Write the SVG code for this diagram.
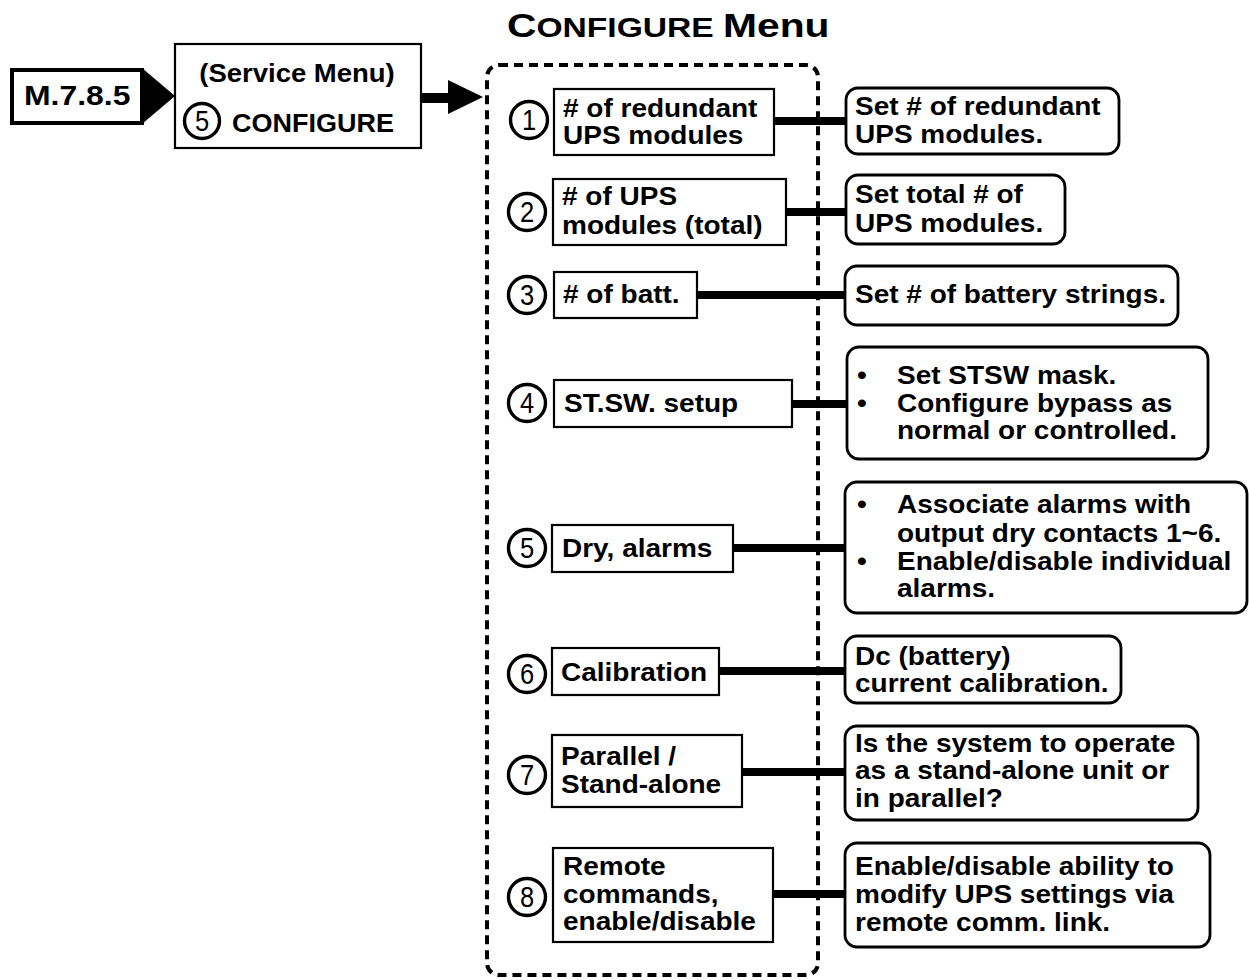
<svg xmlns="http://www.w3.org/2000/svg" width="1249" height="980" viewBox="0 0 1249 980">
<defs>
<style>
.t{font-family:"Liberation Sans",Arial,Helvetica,sans-serif;font-weight:bold;font-size:25px;fill:#000}
.n{font-family:"Liberation Sans",Arial,Helvetica,sans-serif;font-size:29px;fill:#000;text-anchor:middle}
.box{fill:#fff;stroke:#000;stroke-width:2.2}
.rbox{fill:#fff;stroke:#000;stroke-width:2.8}
.circ{fill:#fff;stroke:#000;stroke-width:3.4}
.conn{stroke:#000;stroke-width:8;fill:none}
</style>
</defs>
<rect width="1249" height="980" fill="#fff"/>

<g id="title">
<text class="t" transform="translate(507,37) scale(1.2,1)"><tspan style="font-size:34px">C</tspan><tspan style="font-size:28px">ONFIGURE </tspan><tspan style="font-size:34px">Menu</tspan></text>
</g>

<g id="connectors">
<polygon points="142,68 175,96 142,124" fill="#000"/>
<rect x="421" y="93" width="29" height="10" fill="#000"/>
<polygon points="448,80 483,97 448,114" fill="#000"/>
<line class="conn" x1="774" y1="121" x2="847" y2="121"/>
<line class="conn" x1="786" y1="212" x2="846" y2="212"/>
<line class="conn" x1="697" y1="295" x2="846" y2="295"/>
<line class="conn" x1="792" y1="404" x2="847" y2="404"/>
<line class="conn" x1="733" y1="548" x2="845" y2="548"/>
<line class="conn" x1="719" y1="671" x2="845" y2="671"/>
<line class="conn" x1="742" y1="772" x2="845" y2="772"/>
<line class="conn" x1="773" y1="894" x2="845" y2="894"/>
</g>

<g id="m785">
<rect x="12" y="70" width="130" height="53" fill="#fff" stroke="#000" stroke-width="4"/>
<text class="t" style="font-size:28px" transform="translate(24,105) scale(1.14,1)">M.7.8.5</text>
</g>

<g id="service">
<rect class="box" x="175" y="44" width="246" height="104"/>
<text class="t" text-anchor="middle" transform="translate(297,82) scale(1.1,1)">(Service Menu)</text>
<circle class="circ" cx="202" cy="121" r="17.5"/>
<text class="n" transform="translate(202,131) scale(0.88,1)">5</text>
<text class="t" transform="translate(232,132) scale(1.08,1)">CONFIGURE</text>
</g>

<g id="menu">
<rect x="487" y="65" width="331" height="910" rx="12" fill="none" stroke="#000" stroke-width="4" stroke-dasharray="9 6"/>
</g>

<g id="item1">
<circle class="circ" cx="529" cy="120" r="18.5"/>
<text class="n" transform="translate(529,130) scale(0.88,1)">1</text>
<rect class="box" x="554" y="89" width="220" height="66"/>
<text class="t" transform="translate(563,117) scale(1.12,1)"><tspan x="0" y="0">#&#160;of redundant</tspan><tspan x="0" y="27">UPS modules</tspan></text>
</g>
<g id="desc1">
<rect class="rbox" x="846" y="88" width="273" height="66" rx="12"/>
<text class="t" transform="translate(855,115) scale(1.12,1)"><tspan x="0" y="0">Set # of redundant</tspan><tspan x="0" y="28">UPS modules.</tspan></text>
</g>

<g id="item2">
<circle class="circ" cx="527" cy="212" r="18.5"/>
<text class="n" transform="translate(527,222) scale(0.88,1)">2</text>
<rect class="box" x="553" y="179" width="233" height="66"/>
<text class="t" transform="translate(562,205) scale(1.12,1)"><tspan x="0" y="0"># of UPS</tspan><tspan x="0" y="29">modules (total)</tspan></text>
</g>
<g id="desc2">
<rect class="rbox" x="846" y="175" width="219" height="69" rx="12"/>
<text class="t" transform="translate(855,203) scale(1.12,1)"><tspan x="0" y="0">Set total # of</tspan><tspan x="0" y="29">UPS modules.</tspan></text>
</g>

<g id="item3">
<circle class="circ" cx="527" cy="295" r="18.5"/>
<text class="n" transform="translate(527,305) scale(0.88,1)">3</text>
<rect class="box" x="554" y="272" width="143" height="46"/>
<text class="t" transform="translate(563,303) scale(1.12,1)"># of batt.</text>
</g>
<g id="desc3">
<rect class="rbox" x="845" y="266" width="333" height="59" rx="12"/>
<text class="t" transform="translate(855,303) scale(1.12,1)">Set # of battery strings.</text>
</g>

<g id="item4">
<circle class="circ" cx="527" cy="403" r="18.5"/>
<text class="n" transform="translate(527,413) scale(0.88,1)">4</text>
<rect class="box" x="554" y="380" width="238" height="47"/>
<text class="t" transform="translate(564,412) scale(1.12,1)">ST.SW. setup</text>
</g>
<g id="desc4">
<rect class="rbox" x="847" y="347" width="361" height="112" rx="12"/>
<text class="t" transform="translate(857,384) scale(1.12,1)"><tspan x="0" y="0">•</tspan><tspan x="0" y="28">•</tspan></text>
<text class="t" transform="translate(897,384) scale(1.12,1)"><tspan x="0" y="0">Set STSW mask.</tspan><tspan x="0" y="28">Configure bypass as</tspan><tspan x="0" y="55">normal or controlled.</tspan></text>
</g>

<g id="item5">
<circle class="circ" cx="527" cy="548" r="18.5"/>
<text class="n" transform="translate(527,558) scale(0.88,1)">5</text>
<rect class="box" x="552" y="525" width="181" height="47"/>
<text class="t" transform="translate(562,557) scale(1.12,1)">Dry, alarms</text>
</g>
<g id="desc5">
<rect class="rbox" x="845" y="482" width="402" height="131" rx="12"/>
<text class="t" transform="translate(857,513) scale(1.12,1)"><tspan x="0" y="0">•</tspan><tspan x="0" y="57">•</tspan></text>
<text class="t" transform="translate(897,513) scale(1.12,1)"><tspan x="0" y="0">Associate alarms with</tspan><tspan x="0" y="29">output dry contacts 1~6.</tspan><tspan x="0" y="57">Enable/disable individual</tspan><tspan x="0" y="84">alarms.</tspan></text>
</g>

<g id="item6">
<circle class="circ" cx="527" cy="674" r="18.5"/>
<text class="n" transform="translate(527,684) scale(0.88,1)">6</text>
<rect class="box" x="552" y="648" width="167" height="47"/>
<text class="t" transform="translate(561,681) scale(1.12,1)">Calibration</text>
</g>
<g id="desc6">
<rect class="rbox" x="845" y="636" width="276" height="67" rx="12"/>
<text class="t" transform="translate(855,665) scale(1.12,1)"><tspan x="0" y="0">Dc (battery)</tspan><tspan x="0" y="27">current calibration.</tspan></text>
</g>

<g id="item7">
<circle class="circ" cx="527" cy="775" r="18.5"/>
<text class="n" transform="translate(527,785) scale(0.88,1)">7</text>
<rect class="box" x="552" y="735" width="190" height="72"/>
<text class="t" transform="translate(561,765) scale(1.12,1)"><tspan x="0" y="0">Parallel /</tspan><tspan x="0" y="28">Stand-alone</tspan></text>
</g>
<g id="desc7">
<rect class="rbox" x="845" y="726" width="353" height="94" rx="12"/>
<text class="t" transform="translate(855,752) scale(1.12,1)"><tspan x="0" y="0">Is the system to operate</tspan><tspan x="0" y="27">as a stand-alone unit or</tspan><tspan x="0" y="55">in parallel?</tspan></text>
</g>

<g id="item8">
<circle class="circ" cx="527" cy="897" r="18.5"/>
<text class="n" transform="translate(527,907) scale(0.88,1)">8</text>
<rect class="box" x="553" y="848" width="220" height="94"/>
<text class="t" transform="translate(563,875) scale(1.12,1)"><tspan x="0" y="0">Remote</tspan><tspan x="0" y="28">commands,</tspan><tspan x="0" y="55">enable/disable</tspan></text>
</g>
<g id="desc8">
<rect class="rbox" x="845" y="843" width="365" height="104" rx="12"/>
<text class="t" transform="translate(855,875) scale(1.12,1)"><tspan x="0" y="0">Enable/disable ability to</tspan><tspan x="0" y="28">modify UPS settings via</tspan><tspan x="0" y="56">remote comm. link.</tspan></text>
</g>
</svg>
